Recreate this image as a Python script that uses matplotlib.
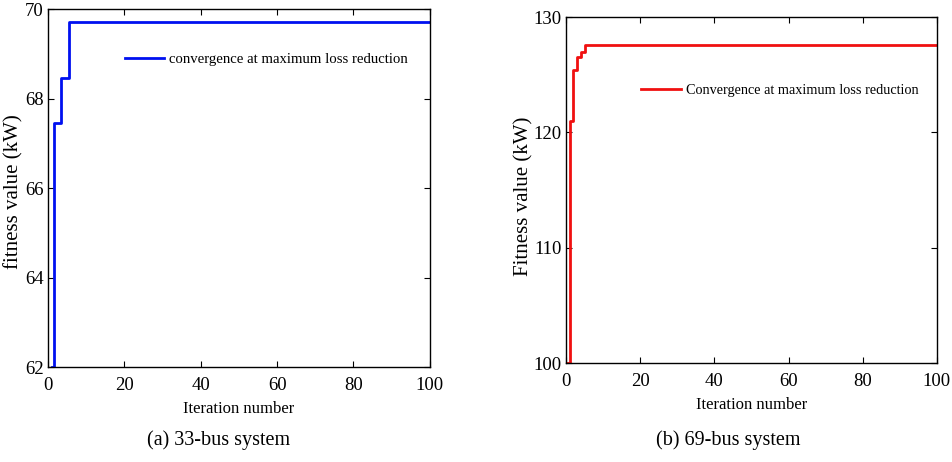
import numpy as np
import matplotlib
matplotlib.use('Agg')
import matplotlib.pyplot as plt

# 33-bus system: fitness per iteration (1..100)
iter_33 = np.arange(1, 101)
head_33 = [62.0, 67.45, 67.45, 68.45, 68.45]
final_33 = 69.72
fitness_33 = head_33 + [final_33] * (len(iter_33) - len(head_33))

# 69-bus system: fitness per iteration (0..100)
iter_69 = np.arange(0, 101)
head_69 = [100.0, 121.0, 125.4, 126.5, 127.0]
final_69 = 127.6
fitness_69 = head_69 + [final_69] * (len(iter_69) - len(head_69))

xticks = [0, 20, 40, 60, 80, 100]
yticks_33 = [62, 64, 66, 68, 70]
yticks_69 = [100, 110, 120, 130]

plt.rcParams['font.family'] = ['Liberation Serif', 'DejaVu Serif']
plt.rcParams['font.size'] = 12

fig = plt.figure(figsize=(9.53, 4.62), dpi=100)
ax1 = fig.add_axes([0.0504, 0.2056, 0.4006, 0.7749])
ax2 = fig.add_axes([0.594, 0.214, 0.389, 0.749])


def style(ax):
    ax.tick_params(direction='in', top=True, right=True, length=4, width=0.8,
                   labelsize=13.5)
    ax.tick_params(axis='x', pad=7)
    ax.tick_params(axis='y', pad=3)
    for s in ax.spines.values():
        s.set_linewidth(1.0)
    ax.set_xlim(0, 100)
    ax.set_xticks(xticks)


ax1.plot(iter_33, fitness_33, color='#0010f0', lw=2, drawstyle='steps-mid',
         label='convergence at maximum loss reduction')
style(ax1)
ax1.set_ylim(62, 70)
ax1.set_yticks(yticks_33)
ax1.set_xlabel('Iteration number', fontsize=12, labelpad=5)
ax1.set_ylabel('fitness value (kW)', fontsize=15)
ax1.yaxis.set_label_coords(-0.064, 0.489)
ax1.legend(loc='upper right', bbox_to_anchor=(0.978, 0.915), frameon=False,
           fontsize=10.6, handlelength=2.7, handletextpad=0.35)

ax2.plot(iter_69, fitness_69, color='#f01010', lw=2, drawstyle='steps-post',
         label='Convergence at maximum loss reduction')
style(ax2)
ax2.set_ylim(100, 130)
ax2.set_yticks(yticks_69)
ax2.set_xlabel('Iteration number', fontsize=12, labelpad=5)
ax2.set_ylabel('Fitness value (kW)', fontsize=15)
ax2.yaxis.set_label_coords(-0.088, 0.483)
ax2.legend(loc='upper right', bbox_to_anchor=(0.987, 0.845), frameon=False,
           fontsize=10.3, handlelength=2.8, handletextpad=0.35)

fig.text(219 / 953, 1 - 440 / 462, '(a) 33-bus system', ha='center', va='center', fontsize=14.5)
fig.text(728 / 953, 1 - 440 / 462, '(b) 69-bus system', ha='center', va='center', fontsize=14.5)

fig.savefig('out.png', dpi=100)
